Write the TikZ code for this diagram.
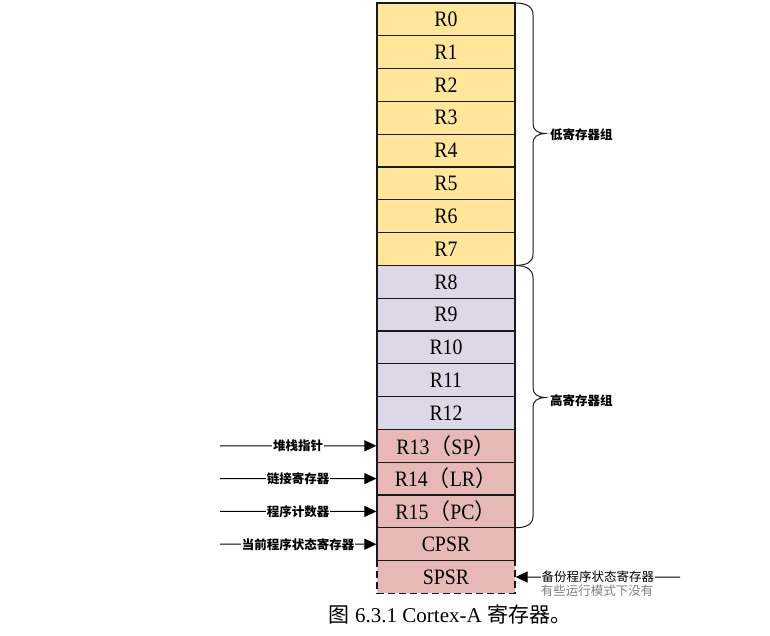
\documentclass[tikz,border=0pt]{standalone}
\usepackage{fontspec}
\setmainfont{Liberation Serif}
\newfontfamily\cjk{Noto Sans CJK SC}
\newfontfamily\regfont[FakeStretch=0.9]{Liberation Serif}
\usetikzlibrary{arrows.meta}
\definecolor{yel}{RGB}{255,230,153}
\definecolor{lav}{RGB}{221,216,232}
\definecolor{pnk}{RGB}{230,185,183}
\definecolor{edge}{RGB}{25,25,25}
\begin{document}
\begin{tikzpicture}[x=1pt,y=-1pt,
  reg/.style={draw=edge, line width=1.2pt, minimum width=138pt, minimum height=32.8pt,
    inner sep=0pt, font=\regfont\fontsize{22}{22}\selectfont},
  arr/.style={line width=1pt, -{Triangle[length=12pt,width=11pt]}},
  lab/.style={fill=white, inner sep=1pt, font=\cjk\bfseries\fontsize{12.5}{13}\selectfont},
  note/.style={inner sep=1pt, font=\cjk\fontsize{12.5}{13}\selectfont},
  bracepath/.style={line width=1pt, edge}]
\useasboundingbox (0,0) rectangle (770,635);
\foreach \i in {0,...,7}
  \node[reg, fill=yel] (r\i) at (446,{19.4+32.8*\i}) {R\i};
\foreach \i in {8,...,12}
  \node[reg, fill=lav] (r\i) at (446,{19.4+32.8*\i}) {R\i};
\node[reg, fill=pnk] (r13) at (446,{19.4+32.8*13}) {R13{\cjk （}SP{\cjk ）}};
\node[reg, fill=pnk] (r14) at (446,{19.4+32.8*14}) {R14{\cjk （}LR{\cjk ）}};
\node[reg, fill=pnk] (r15) at (446,{19.4+32.8*15}) {R15{\cjk （}PC{\cjk ）}};
\node[reg, fill=pnk] (cpsr) at (446,{19.4+32.8*16}) {CPSR};
\node[reg, fill=pnk, dashed, dash pattern=on 7pt off 4pt] (spsr) at (446,{19.4+32.8*17}) {SPSR};
% braces
\draw[bracepath] (515,3) .. controls (527,3) and (533,7) .. (533,15) -- (533,124)
  .. controls (533,130) and (538,133.5) .. (545,133.5)
  .. controls (538,133.5) and (533,137) .. (533,143) -- (533,254)
  .. controls (533,262) and (527,265.4) .. (515,265.4);
\draw[bracepath] (515,265.4) .. controls (527,265.4) and (533,270) .. (533,278) -- (533,388)
  .. controls (533,394) and (538,397.5) .. (545,397.5)
  .. controls (538,397.5) and (533,401) .. (533,407) -- (533,516)
  .. controls (533,524) and (527,527.8) .. (515,527.8);
\node[lab, anchor=west] (lowlab) at (549,135) {低寄存器组};
\node[lab, anchor=west] (highlab) at (549,401) {高寄存器组};
% left arrows
\coordinate (s13) at (220,445.8);
\coordinate (s14) at (220,478.6);
\coordinate (s15) at (220,511.4);
\coordinate (scp) at (220,544.2);
\draw[arr] (s13) -- node[lab] {堆栈指针} (r13.west);
\draw[arr] (s14) -- node[lab] {链接寄存器} (r14.west);
\draw[arr] (s15) -- node[lab] {程序计数器} (r15.west);
\draw[arr] (scp) -- node[lab] {当前程序状态寄存器} (cpsr.west);
% SPSR arrow
\coordinate (ssp) at (680,577);
\draw[arr] (ssp) -- node[fill=white, note, pos=0.5] (bak) {备份程序状态寄存器} (spsr.east);
\node[note, text=black!50] (none) at (597,591) {有些运行模式下没有};
% caption
\node[font=\fontsize{21}{22}\selectfont] (cap) at (450,614) {{\cjk 图} 6.3.1 Cortex-A {\cjk 寄存器。}};
\end{tikzpicture}
\end{document}
